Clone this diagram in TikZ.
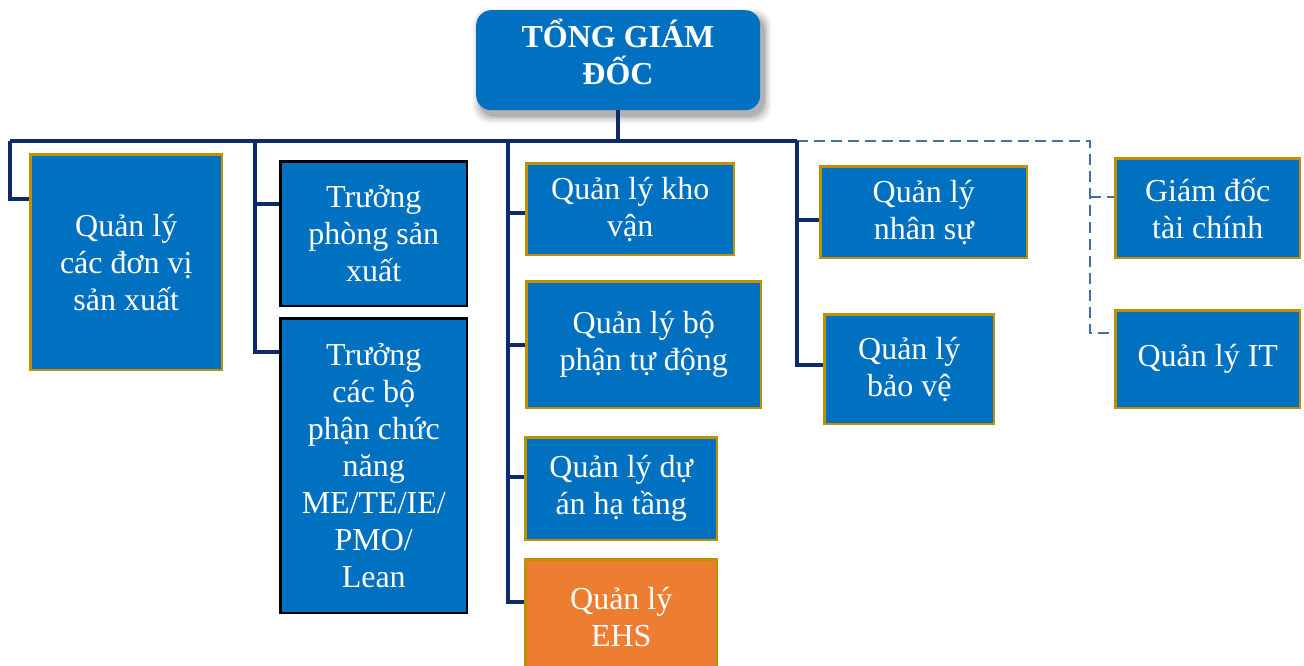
\documentclass[tikz,border=0pt]{standalone}
\usepackage{fontspec}
\setmainfont{Liberation Serif}
\definecolor{boxblue}{HTML}{0070C0}
\definecolor{boxorange}{HTML}{ED7D31}
\definecolor{goldline}{HTML}{BF9000}
\definecolor{navy}{HTML}{0D2A6A}
\definecolor{dashblue}{HTML}{46709E}
\tikzset{
  unit/.style={draw=goldline, line width=2.5pt, fill=boxblue, text=white,
    font=\fontsize{32}{37}\selectfont, align=center, inner sep=0pt,
    rectangle, anchor=north west, xshift=1.25pt, yshift=-1.25pt},
  dept/.style={unit, draw=black},
  conn/.style={draw=navy, line width=3.5pt},
  dotted link/.style={draw=dashblue, line width=2.5pt, dash pattern=on 11pt off 6pt},
}
\begin{document}
\begin{tikzpicture}[x=1pt,y=-1pt]
\useasboundingbox (0,0) rectangle (1304,666);
\fill[white] (0,0) rectangle (1304,666);

% soft shadow under the head box
\foreach \s/\o in {7/0.05,5/0.07,3/0.09,1/0.12}{
  \fill[black,opacity=\o,rounded corners=16pt] (476-\s+4,10-\s+6) rectangle (760+\s+4,110+\s+6);
}
\node[draw=none, fill=boxblue, rounded corners=15pt, minimum width=284pt,
      minimum height=100pt, anchor=north west, inner sep=0pt] (ceo) at (476,10) {};
\node[text=white, font=\bfseries\fontsize{32}{37}\selectfont, align=center]
      (ceotext) at (618,52) {TỔNG GIÁM\\ĐỐC};

% units (sizes measured to the outer edge of the border)
\node[unit, minimum width=191.5pt, minimum height=215.5pt] (b1) at (28,152) {Quản lý\\các đơn vị\\sản xuất};
\node[dept, minimum width=186.5pt, minimum height=144.5pt] (b2) at (278,159) {Trưởng\\phòng sản\\xuất};
\node[dept, minimum width=186.5pt, minimum height=294.5pt] (b3) at (278,316) {Trưởng\\các bộ\\phận chức\\năng\\ME/TE/IE/\\PMO/\\Lean};
\node[unit, minimum width=207.5pt, minimum height=91.5pt] (b4) at (524,161) {Quản lý kho\\vận};
\node[unit, minimum width=234.5pt, minimum height=126.5pt] (b5) at (524,279) {Quản lý bộ\\phận tự động};
\node[unit, minimum width=191.5pt, minimum height=102.5pt] (b6) at (523,435) {Quản lý dự\\án hạ tầng};
\node[unit, fill=boxorange, minimum width=191.5pt, minimum height=115pt] (b7) at (523,557) {Quản lý\\EHS};
\node[unit, minimum width=206.5pt, minimum height=91.5pt] (b8) at (818,164) {Quản lý\\nhân sự};
\node[unit, minimum width=169.5pt, minimum height=109.5pt] (b9) at (822,312) {Quản lý\\bảo vệ};
\node[unit, minimum width=184.5pt, minimum height=99.5pt] (b10) at (1113,156) {Giám đốc\\tài chính};
\node[unit, minimum width=184.5pt, minimum height=97.5pt] (b11) at (1113,308) {Quản lý IT};

% bus and branch points
\coordinate (busA) at (10,141);
\coordinate (busB) at (255,141);
\coordinate (busC) at (508,141);
\coordinate (busD) at (797,141);
\coordinate (busE) at (1090,141);
\coordinate (k1) at (0,199);
\coordinate (k2) at (0,204);
\coordinate (k3) at (0,352);
\coordinate (k4) at (0,213);
\coordinate (k5) at (0,345);
\coordinate (k6) at (0,477);
\coordinate (k7) at (0,602);
\coordinate (k8) at (0,220);
\coordinate (k9) at (0,365);
\coordinate (k10) at (0,197);
\coordinate (k11) at (0,333);

% dotted-line reports
\draw[dotted link] (busD) -- (busE) |- (b11.west |- k11);
\draw[dotted link] (busE |- k10) -- (b10.west |- k10);

% solid reports
\draw[conn] (ceo.south) -- (ceo.south |- busA);
\draw[conn] (busA) -- (busD);
\draw[conn] (busA) |- (b1.west |- k1);
\draw[conn] (busB) |- (b3.west |- k3);
\draw[conn] (busB |- k2) -- (b2.west |- k2);
\draw[conn] (busC) |- (b7.west |- k7);
\draw[conn] (busC |- k4) -- (b4.west |- k4);
\draw[conn] (busC |- k5) -- (b5.west |- k5);
\draw[conn] (busC |- k6) -- (b6.west |- k6);
\draw[conn] (busD) |- (b9.west |- k9);
\draw[conn] (busD |- k8) -- (b8.west |- k8);
\end{tikzpicture}
\end{document}
